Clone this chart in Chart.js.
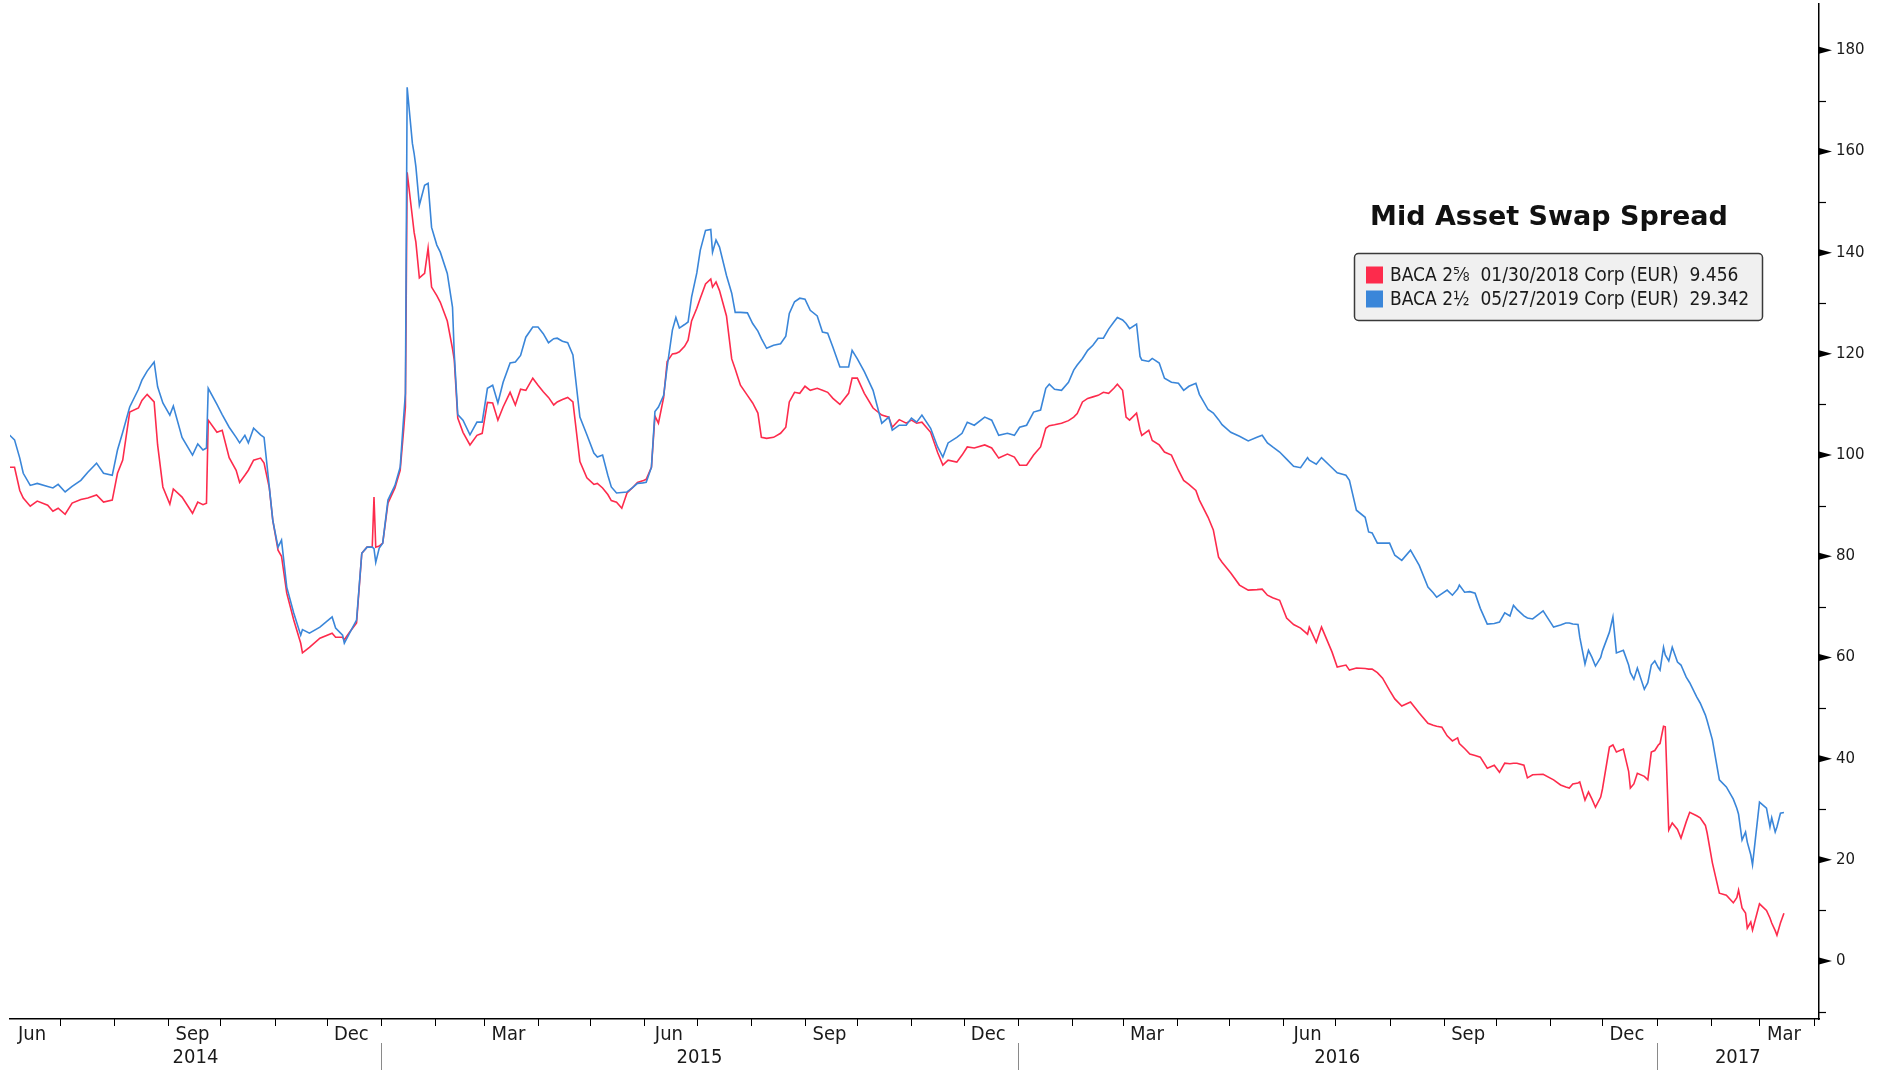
<!DOCTYPE html>
<html>
<head>
<meta charset="utf-8">
<title>Mid Asset Swap Spread</title>
<script src="https://cdn.jsdelivr.net/npm/chart.js@4.4.1/dist/chart.umd.min.js"></script>
<style>
  html, body { margin: 0; padding: 0; background: #fff; }
  #wrap { width: 1879px; height: 1070px; }
</style>
</head>
<body>
<div id="wrap"><canvas id="spread" width="1879" height="1070"></canvas></div>
<script>
// observation dates shared by both bonds
const dates = [
  '2014-06-02','2014-06-05','2014-06-08','2014-06-10','2014-06-14','2014-06-18','2014-06-24','2014-06-27','2014-06-30',
  '2014-07-04','2014-07-08','2014-07-13','2014-07-17','2014-07-22','2014-07-26','2014-07-31',
  '2014-08-03','2014-08-06','2014-08-10','2014-08-15','2014-08-17','2014-08-20','2014-08-24','2014-08-26','2014-08-29',
  '2014-09-02','2014-09-04','2014-09-09','2014-09-15','2014-09-18','2014-09-21','2014-09-23','2014-09-24','2014-09-29',
  '2014-10-02','2014-10-06','2014-10-10','2014-10-12','2014-10-15','2014-10-17','2014-10-20','2014-10-24','2014-10-26','2014-10-29','2014-10-31',
  '2014-11-03','2014-11-05','2014-11-08','2014-11-12','2014-11-16','2014-11-17','2014-11-21','2014-11-27',
  '2014-12-04','2014-12-06','2014-12-10','2014-12-11','2014-12-14','2014-12-18','2014-12-21','2014-12-24','2014-12-27','2014-12-28','2014-12-29','2014-12-31',
  '2015-01-02','2015-01-05','2015-01-09','2015-01-12','2015-01-14','2015-01-15','2015-01-16','2015-01-19','2015-01-20','2015-01-21','2015-01-23','2015-01-26','2015-01-28','2015-01-30',
  '2015-02-02','2015-02-04','2015-02-08','2015-02-11','2015-02-12','2015-02-14','2015-02-17','2015-02-21','2015-02-25','2015-02-28',
  '2015-03-03','2015-03-06','2015-03-09','2015-03-12','2015-03-16','2015-03-19','2015-03-22','2015-03-25','2015-03-29',
  '2015-04-01','2015-04-04','2015-04-07','2015-04-10','2015-04-12','2015-04-15','2015-04-18','2015-04-21','2015-04-25','2015-04-29',
  '2015-05-03','2015-05-05','2015-05-08','2015-05-11','2015-05-13','2015-05-16','2015-05-19','2015-05-22','2015-05-25','2015-05-28','2015-05-31',
  '2015-06-02','2015-06-05','2015-06-07','2015-06-09','2015-06-12','2015-06-14','2015-06-17','2015-06-19','2015-06-21','2015-06-24','2015-06-26','2015-06-28',
  '2015-07-01','2015-07-03','2015-07-06','2015-07-09','2015-07-10','2015-07-12','2015-07-14','2015-07-18','2015-07-21','2015-07-23','2015-07-26','2015-07-30',
  '2015-08-02','2015-08-05','2015-08-07','2015-08-10','2015-08-14','2015-08-18','2015-08-21','2015-08-23','2015-08-26','2015-08-29',
  '2015-09-01','2015-09-04','2015-09-08','2015-09-11','2015-09-14','2015-09-17','2015-09-21','2015-09-26','2015-09-28',
  '2015-10-01','2015-10-05','2015-10-10','2015-10-15','2015-10-19','2015-10-21','2015-10-25','2015-10-29',
  '2015-11-01','2015-11-04','2015-11-07','2015-11-12','2015-11-16','2015-11-19','2015-11-22','2015-11-27','2015-11-30',
  '2015-12-03','2015-12-07','2015-12-13','2015-12-17','2015-12-21','2015-12-26','2015-12-30',
  '2016-01-02','2016-01-06','2016-01-10','2016-01-14','2016-01-17','2016-01-19','2016-01-22','2016-01-26','2016-01-30',
  '2016-02-02','2016-02-04','2016-02-07','2016-02-10','2016-02-13','2016-02-16','2016-02-19','2016-02-22','2016-02-25','2016-02-27',
  '2016-03-01','2016-03-03','2016-03-05','2016-03-09','2016-03-11','2016-03-12','2016-03-16','2016-03-18','2016-03-22','2016-03-25','2016-03-29',
  '2016-04-02','2016-04-05','2016-04-08','2016-04-12','2016-04-14','2016-04-19','2016-04-22','2016-04-25','2016-04-27',
  '2016-05-02','2016-05-07','2016-05-12','2016-05-17','2016-05-20','2016-05-23','2016-05-26','2016-05-30',
  '2016-06-03','2016-06-07','2016-06-11','2016-06-15','2016-06-16','2016-06-20','2016-06-23','2016-06-29',
  '2016-07-02','2016-07-07','2016-07-09','2016-07-13','2016-07-18','2016-07-20','2016-07-22','2016-07-25','2016-07-28',
  '2016-08-01','2016-08-04','2016-08-08','2016-08-13','2016-08-18','2016-08-23','2016-08-26','2016-08-28','2016-08-31',
  '2016-09-03','2016-09-06','2016-09-09','2016-09-10','2016-09-13','2016-09-16','2016-09-19','2016-09-22','2016-09-26','2016-09-30',
  '2016-10-03','2016-10-06','2016-10-09','2016-10-11','2016-10-13','2016-10-17','2016-10-19','2016-10-22','2016-10-28',
  '2016-11-03','2016-11-07','2016-11-10','2016-11-12','2016-11-14','2016-11-17','2016-11-18','2016-11-21','2016-11-23','2016-11-25','2016-11-27','2016-11-30',
  '2016-12-01','2016-12-05','2016-12-07','2016-12-09','2016-12-13','2016-12-16','2016-12-17','2016-12-19','2016-12-21','2016-12-25','2016-12-27','2016-12-29','2016-12-31',
  '2017-01-02','2017-01-03','2017-01-05','2017-01-06','2017-01-08','2017-01-10','2017-01-13','2017-01-15','2017-01-18','2017-01-20','2017-01-24','2017-01-26','2017-01-29','2017-01-30',
  '2017-02-02','2017-02-06','2017-02-10','2017-02-14','2017-02-16','2017-02-17','2017-02-19','2017-02-21','2017-02-22','2017-02-24','2017-02-25',
  '2017-03-01','2017-03-05','2017-03-07','2017-03-08','2017-03-10','2017-03-11','2017-03-13','2017-03-15'
];

// BACA 2 5/8 01/30/2018, mid asset swap spread
const baca2018 = [
  97.6,97.6,93,91.5,89.9,90.9,90.1,88.9,89.5,
  88.3,90.5,91.2,91.5,92.1,90.7,91.1,
  96.4,99,108.5,109.3,110.8,112,110.5,102,93.7,
  90.3,93.3,91.7,88.5,90.7,90.2,90.5,106.9,104.5,
  104.9,99.5,97,94.6,96,97,99,99.4,98.4,93.5,87.1,
  81.2,80,72.7,67.4,62.8,60.9,62,63.8,
  64.8,64,64,63.5,65,66.8,80.6,81.8,81.8,91.7,81.8,82,
  82.6,90.5,93.5,97,105,109.5,155.9,147,144,142.1,135,135.9,140.9,133.2,
  131.5,130.2,126.5,121,118.8,107.3,104.5,102,103.9,104.3,
  110.4,110.3,106.9,109.5,112.4,109.9,113,112.8,115.2,
  113.8,112.5,111.4,109.9,110.5,111,111.4,110.5,98.7,95.5,
  94.2,94.4,93.5,92.2,91,90.7,89.5,92.5,93.5,94.6,94.9,
  95.2,97.6,107.7,106.3,111.4,118.5,120,120.1,120.4,121.5,122.7,126.5,
  129,131,133.8,134.8,133.2,134.2,132.5,127.5,119,117,113.8,111.8,
  110.3,108.3,103.5,103.3,103.5,104.3,105.5,110.5,112.4,112.2,
  113.6,112.8,113.2,112.8,112.4,111.2,110,112.2,115.2,
  115.2,112.2,109.3,107.9,107.5,105.5,107,106.3,
  106.9,106.3,106.5,104.5,100.5,98,99,98.6,100,
  101.6,101.4,102,101.4,99.4,100.2,99.6,
  98,98,100,101.6,105.3,105.8,106,106.3,106.8,
  107.5,108.2,110.5,111.2,111.5,111.8,112.4,112.2,113.2,114,
  112.8,107.5,106.9,108.3,105,103.9,104.9,102.9,102,100.6,100,
  97,95,94.2,93,91.1,87.7,85.2,79.8,78.8,
  76.7,74.3,73.3,73.4,73.5,72.3,71.8,71.3,
  67.8,66.5,65.8,64.6,66,63,66,61.1,
  58.1,58.5,57.5,57.9,57.8,57.7,57.7,57,55.9,
  53.5,51.8,50.4,51.2,49,47,46.6,46.4,46.2,
  44.5,43.5,44.1,43,42,40.9,40.6,40.3,38.1,38.7,
  37.3,39.1,39,39.1,39.1,38.7,36.2,36.8,36.9,
  35.8,34.8,34.4,34.2,35,35.2,35.4,31.8,33.4,32,30.4,32.4,
  34,42.3,42.7,41.3,41.9,37.5,34.2,35,37.1,36.5,35.8,41.3,41.6,
  42.7,43,46.4,46.3,25.9,27.3,26,24.3,27.5,29.4,28.7,28.3,26.8,25.3,
  19.4,13.4,13,11.5,12.5,14,10.5,9.5,6.5,7.7,6.1,
  11.3,10,8.5,7.5,6,5.1,7.5,9.456
];

// BACA 2 1/2 05/27/2019, mid asset swap spread
const baca2019 = [
  104,103,99.4,96.4,94,94.4,93.8,93.5,94.2,
  92.7,93.8,95,96.6,98.4,96.4,96,
  101,104.5,109.5,113,114.8,116.6,118.4,113.5,110.3,
  107.9,109.7,103.5,100,102.2,101,101.4,113.2,110,
  108,105.5,103.5,102.4,103.9,102.4,105.3,104,103.5,93.7,87.1,
  81.8,83.2,73.9,68.8,64.4,65.5,64.8,66,
  68,65.8,64.4,62.8,64.8,67.4,80.6,81.8,81.8,81.5,78.8,81.6,
  82.6,91.1,94,97.6,107.5,112.2,172.7,161.6,159.6,157,149.4,153.3,153.7,145,
  141.5,140.1,135.9,129.2,120,108,106.9,104,106.5,106.5,
  113.2,113.8,110.3,114.4,118.2,118.4,119.7,123.3,125.3,
  125.3,124,122.2,123,123.1,122.5,122.2,119.8,107.5,104,
  100.4,99.6,100,96,93.7,92.5,92.6,92.7,93.5,94.4,94.5,
  94.6,97.6,108.6,109.5,111.8,117.4,124.7,127.2,125.1,125.8,126.3,131.2,
  136,140.5,144.4,144.6,140.1,142.5,141.1,135.5,132,128.2,128.2,128.1,
  126,124.5,123,121.1,121.7,122,123.5,128,130.3,131,
  130.8,128.6,127.5,124.3,124.1,121.3,117.4,117.4,120.7,
  119,116.5,112.8,106.3,107.5,104.9,105.9,105.9,
  107.3,106.5,107.9,105.3,101.6,99.6,102.4,103.5,104.3,
  106.5,105.9,107.5,106.9,103.9,104.3,103.9,
  105.5,105.9,108.5,108.9,113.2,114,113,112.8,114.4,
  116.8,117.8,119.1,120.7,121.7,123.1,123.1,124.9,126.3,127.2,
  126.7,126,125,125.9,119.5,118.8,118.5,119.1,118.2,115.2,114.4,
  114.2,112.8,113.6,114.2,112,109,108.3,107,106,
  104.5,103.7,102.8,103.5,103.9,102.4,101.6,100.6,
  99.2,97.8,97.5,99.5,99,98.2,99.5,97.5,
  96.5,96,95,89.1,87.7,84.8,84.6,82.6,82.6,
  82.6,80.2,79.2,81.2,78.2,73.9,72.8,71.9,72.6,
  73.3,72.3,73.5,74.3,72.9,73,72.7,69.7,66.6,66.7,
  67,68.8,68.2,70.3,69.5,68.2,67.8,67.6,69.2,
  66,66.4,66.8,66.8,66.6,66.5,64,58.7,61.4,60,58.3,60,
  61.3,65,68,60.9,61.4,58.5,57,55.7,57.9,53.7,55,58.5,59.3,
  58,57.5,62,60.5,59.3,62,59.1,58.5,56.1,55,52.2,51,48.6,47.5,
  43.7,35.8,34.4,32,30.2,29,23.9,25.5,23.5,21,19,
  31.4,30.2,26.5,28.3,25.5,26.5,29.2,29.342
];

const seriesLabels = [
  'BACA 2\u215D  01/30/2018 Corp (EUR)  9.456',
  'BACA 2\u00BD  05/27/2019 Corp (EUR)  29.342'
];
const seriesColors = ['#fd2b4c', '#3a86d9'];
const chartTitle = 'Mid Asset Swap Spread';

// axis labels
const monthNames = ['Jan','Feb','Mar','Apr','May','Jun','Jul','Aug','Sep','Oct','Nov','Dec'];
const labelledMonths = [2, 5, 8, 11];
const years = [2014, 2015, 2016, 2017];
const yTicks = [-10,0,10,20,30,40,50,60,70,80,90,100,110,120,130,140,150,160,170,180];

const DAY = 86400000;
function toDay(s) {
  const p = s.split('-');
  return Date.UTC(+p[0], +p[1] - 1, +p[2]) / DAY;
}
const jan2015 = toDay('2015-01-01');
const xMin = jan2015 - 212.6;
const xMax = jan2015 + 824.1;

function points(values) {
  return values.map((v, i) => ({ x: toDay(dates[i]), y: v }));
}

const axisFont = '"Liberation Sans Narrow", "DejaVu Sans Condensed", sans-serif';

// bloomberg-style axes, title and legend box
const decorations = {
  id: 'decorations',
  afterDraw(chart) {
    const { ctx, chartArea, scales: { x, y } } = chart;
    const base = chartArea.bottom;
    const right = chartArea.right;
    ctx.save();

    // month ticks under the time axis
    ctx.strokeStyle = '#000';
    ctx.lineWidth = 1;
    for (const yr of years) {
      for (let m = 0; m < 12; m++) {
        const d = Date.UTC(yr, m, 1) / DAY;
        if (d <= x.min || d > x.max + 1) continue;
        const px = Math.round(x.getPixelForValue(d)) + 0.5;
        ctx.beginPath();
        ctx.moveTo(px, base);
        ctx.lineTo(px, base + 7);
        ctx.stroke();
      }
    }

    // quarter month names, centred mid-month
    ctx.fillStyle = '#1a1a1a';
    ctx.font = '20px ' + axisFont;
    ctx.textAlign = 'center';
    ctx.textBaseline = 'middle';
    for (const yr of years) {
      for (const m of labelledMonths) {
        const d = Date.UTC(yr, m, 15) / DAY;
        if (d < x.min || d > x.max) continue;
        ctx.fillText(monthNames[m], x.getPixelForValue(d), base + 16);
      }
    }

    // years and separators
    ctx.strokeStyle = '#8a8a8a';
    for (const yr of years) {
      const s = Math.max(x.min, Date.UTC(yr, 0, 1) / DAY);
      const e = Math.min(x.max, Date.UTC(yr + 1, 0, 1) / DAY);
      const cx = (x.getPixelForValue(s) + x.getPixelForValue(e)) / 2;
      ctx.fillText(String(yr), cx, base + 39);
      const j = Date.UTC(yr, 0, 1) / DAY;
      if (j > x.min) {
        const px = Math.round(x.getPixelForValue(j)) + 0.5;
        ctx.beginPath();
        ctx.moveTo(px, base + 24);
        ctx.lineTo(px, base + 51);
        ctx.stroke();
      }
    }

    // value axis markers: arrowheads on labelled values, short ticks between
    ctx.fillStyle = '#000';
    ctx.strokeStyle = '#000';
    ctx.lineWidth = 1.2;
    for (const v of yTicks) {
      const py = y.getPixelForValue(v);
      if (v % 20 === 0) {
        ctx.beginPath();
        ctx.moveTo(right, py - 3.5);
        ctx.lineTo(right + 13, py);
        ctx.lineTo(right, py + 3.5);
        ctx.closePath();
        ctx.fill();
      } else {
        ctx.beginPath();
        ctx.moveTo(right, Math.round(py) + 0.5);
        ctx.lineTo(right + 7, Math.round(py) + 0.5);
        ctx.stroke();
      }
    }

    // title
    ctx.fillStyle = '#111';
    ctx.font = 'bold 27px "DejaVu Sans", sans-serif';
    ctx.textAlign = 'center';
    ctx.textBaseline = 'middle';
    ctx.fillText(chartTitle, 1549, 218);

    // legend box
    const bx = 1354, by = 253, bw = 408, bh = 67;
    ctx.beginPath();
    ctx.roundRect(bx + 0.5, by + 0.5, bw, bh, 4);
    ctx.fillStyle = '#f0f0f0';
    ctx.fill();
    ctx.strokeStyle = '#3a3a3a';
    ctx.lineWidth = 1.5;
    ctx.stroke();

    ctx.font = '19px "DejaVu Sans Condensed", "DejaVu Sans", sans-serif';
    ctx.textAlign = 'left';
    seriesLabels.forEach((label, i) => {
      const rowY = by + 22 + i * 24;
      ctx.fillStyle = seriesColors[i];
      ctx.fillRect(bx + 12, rowY - 8.5, 17, 17);
      ctx.fillStyle = '#1a1a1a';
      ctx.fillText(label, bx + 36, rowY + 1);
    });

    ctx.restore();
  }
};

const chart = new Chart(document.getElementById('spread'), {
  type: 'line',
  data: {
    datasets: [
      {
        label: seriesLabels[0],
        data: points(baca2018),
        borderColor: seriesColors[0],
        borderWidth: 1.6,
        pointRadius: 0,
        tension: 0,
        fill: false,
        order: 1
      },
      {
        label: seriesLabels[1],
        data: points(baca2019),
        borderColor: seriesColors[1],
        borderWidth: 1.6,
        pointRadius: 0,
        tension: 0,
        fill: false,
        order: 0
      }
    ]
  },
  options: {
    responsive: false,
    animation: false,
    devicePixelRatio: 1,
    layout: { padding: { left: 10, top: 4, right: 0, bottom: 0 } },
    plugins: {
      legend: { display: false },
      tooltip: { enabled: false },
      title: { display: false }
    },
    scales: {
      x: {
        type: 'linear',
        position: 'bottom',
        min: xMin,
        max: xMax,
        grid: { display: false, drawTicks: false },
        border: { display: true, color: '#000', width: 1.5 },
        ticks: { display: false },
        afterFit(scale) {
          scale.height = 51;
          scale.paddingLeft = 0;
          scale.paddingRight = 0;
        }
      },
      y: {
        position: 'right',
        min: -11.46,
        max: 189.15,
        grid: { display: false, drawTicks: false },
        border: { display: true, color: '#000', width: 1.5 },
        ticks: {
          stepSize: 10,
          padding: 17,
          color: '#1a1a1a',
          font: { family: 'DejaVu Sans', size: 15 },
          callback(v) {
            const r = Math.round(v);
            return (Math.abs(v - r) < 1e-6 && r % 20 === 0) ? String(r) : '';
          }
        },
        afterFit(scale) {
          scale.width = 60;
          // labels near the ends may stick out; keep the plot full height
          scale.paddingTop = 0;
          scale.paddingBottom = 0;
        }
      }
    }
  },
  plugins: [decorations]
});
</script>
</body>
</html>
